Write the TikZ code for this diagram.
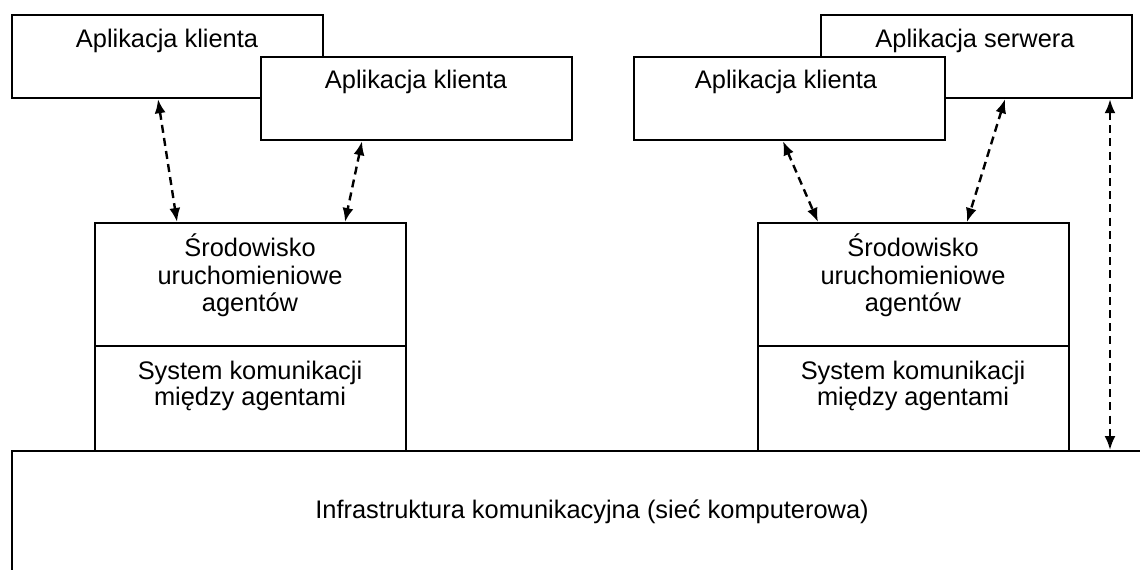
\documentclass[tikz,border=0pt]{standalone}
\usepackage{fontspec}
\setmainfont{Liberation Sans}
\usetikzlibrary{arrows.meta}

\begin{document}
\begin{tikzpicture}[x=0.5pt, y=-0.5pt,
    box/.style={draw, fill=white, line width=1.1pt, inner sep=0pt,
                anchor=north west, minimum width=155.5pt},
    appbox/.style={box, minimum height=41.5pt},
    envbox/.style={box, minimum height=114pt},
    txt/.style={anchor=base, inner sep=0pt, font=\fontsize{12.7pt}{14pt}\selectfont},
    link/.style={line width=1.2pt, dash pattern=on 4pt off 2.6pt,
                 {Latex[length=7pt,width=5.5pt]}-{Latex[length=7pt,width=5.5pt]}}
  ]
  \useasboundingbox (0,0) rectangle (1140,569);
  \clip (0,0) rectangle (1140,569);

  % communication infrastructure (runs past the page edges)
  \node[draw, line width=1.1pt, inner sep=0pt, anchor=north west,
        minimum width=600pt, minimum height=80pt] (net) at (11,450) {};
  \node[txt] (nettxt) at (592,518) {Infrastruktura komunikacyjna (sieć komputerowa)};

  % left host: two client applications
  \node[appbox] (a1) at (11,14) {};
  \node[txt] (a1txt) at (167,47) {Aplikacja klienta};
  \node[appbox] (a2) at (260,56) {};
  \node[txt] (a2txt) at (416,88) {Aplikacja klienta};

  % right host: server application and a client application
  \node[appbox] (srv) at (820,14) {};
  \node[txt] (srvtxt) at (975,47) {Aplikacja serwera};
  \node[appbox] (c2) at (633,56) {};
  \node[txt] (c2txt) at (786,88) {Aplikacja klienta};

  % left agent platform
  \node[envbox] (e1) at (94,222) {};
  \draw[line width=1.1pt] (94,346) -- (405,346);
  \node[txt] (e1a) at (250,256) {Środowisko};
  \node[txt] (e1b) at (250,284) {uruchomieniowe};
  \node[txt] (e1c) at (250,311) {agentów};
  \node[txt] (e1d) at (250,379) {System komunikacji};
  \node[txt] (e1e) at (250,405) {między agentami};

  % right agent platform
  \node[envbox] (e2) at (757,222) {};
  \draw[line width=1.1pt] (757,346) -- (1069,346);
  \node[txt] (e2a) at (913,256) {Środowisko};
  \node[txt] (e2b) at (913,284) {uruchomieniowe};
  \node[txt] (e2c) at (913,311) {agentów};
  \node[txt] (e2d) at (913,379) {System komunikacji};
  \node[txt] (e2e) at (913,405) {między agentami};

  % interactions
  \draw[link] ([xshift=73.5pt]a1.south west) -- ([xshift=41.5pt]e1.north west);
  \draw[link] ([xshift=51pt]a2.south west) -- ([xshift=125.5pt]e1.north west);
  \draw[link] ([xshift=75pt]c2.south west) -- ([xshift=30.5pt]e2.north west);
  \draw[link] ([xshift=92.5pt]srv.south west) -- ([xshift=105pt]e2.north west);
  \draw[link] ([xshift=145pt]srv.south west) -- ([xshift=549.5pt]net.north west);
\end{tikzpicture}
\end{document}
